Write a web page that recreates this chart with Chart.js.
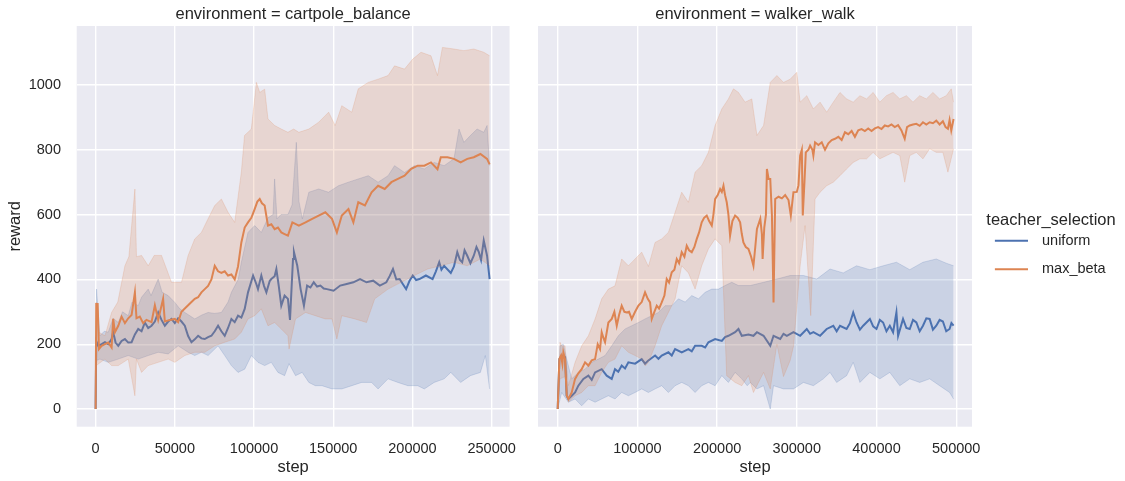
<!DOCTYPE html>
<html>
<head>
<meta charset="utf-8">
<script src="https://cdn.jsdelivr.net/npm/chart.js@4"></script>
<style>
  body { margin: 0; background: #fff; width: 1125px; height: 481px; overflow: hidden; position: relative; }
  .panel { position: absolute; top: 0; height: 481px; }
</style>
</head>
<body>
<div class="panel" style="left:0;width:530px"><canvas id="cartpole"></canvas></div>
<div class="panel" style="left:530px;width:595px"><canvas id="walker"></canvas></div>
<script>
// [step in thousands, reward]
const cartUniform = [[0,0],[0.4,210],[1.7,195],[3.8,200],[5.9,206],[8,200],[10.1,216],[11.1,237],[12.6,205],[14.3,195],[16.4,210],[18.5,216],[20.6,205],[22.7,206],[24.8,230],[26.9,247],[29,240],[31.1,267],[33.2,250],[35.3,257],[37.4,270],[39.5,298],[41.6,275],[43.7,257],[45.8,270],[47.9,278],[50,265],[52.1,280],[54.2,270],[56.3,257],[58.4,225],[60.5,206],[62.6,215],[64.7,226],[66.8,218],[68.9,216],[71,222],[73.1,226],[75.2,240],[77.3,257],[79.4,240],[81.5,226],[83.6,250],[85.7,278],[87.8,268],[89.9,288],[92,282],[94.1,309],[96.2,360],[99.4,412],[101.5,385],[102.5,370],[104.6,412],[106.3,380],[107.8,360],[109.9,395],[110.9,401],[113,410],[114.1,432],[115.6,380],[117.2,319],[119.3,350],[121.4,340],[122.7,275],[124.6,463],[125.2,484],[127.3,442],[129.4,370],[131.5,319],[133.5,381],[135.6,375],[137.7,391],[139.8,378],[141.9,381],[144,372],[146,370],[150.2,365],[154.4,381],[158.5,386],[162.7,391],[166.9,401],[171,391],[175.2,396],[179.4,381],[183.5,391],[185.6,410],[187.7,432],[189.8,400],[191.9,401],[194,385],[196,370],[198.1,395],[200.2,412],[202.3,398],[204.4,401],[208.5,412],[212.7,401],[214.8,425],[216.9,453],[218.3,430],[220,442],[224.2,420],[226.2,440],[228.3,484],[230,460],[231.4,453],[232.9,490],[234.6,473],[236.6,450],[238.7,473],[240.4,500],[241.9,484],[243.3,460],[245,520],[247.1,473],[248.7,401]];
const cartUniformHi = [[0,0],[0.6,370],[2.7,226],[5.5,240],[8,237],[11,280],[14.3,267],[17,300],[20.6,288],[23,330],[26.9,319],[29,345],[33.2,370],[35,350],[39.5,401],[42,360],[45.8,350],[50,329],[53,310],[56.3,298],[62.6,278],[67,290],[71,298],[75,295],[79.4,298],[83.6,330],[85.7,360],[90,400],[92,453],[96.2,545],[100.4,566],[104.6,545],[108.8,590],[112,600],[113,710],[114.5,587],[117,600],[121.4,600],[124,630],[126.7,823],[128.4,640],[130.5,587],[134.6,669],[140.8,679],[147,669],[153.3,689],[159.6,700],[165.8,710],[172.1,720],[178.3,700],[184.6,720],[188.7,751],[195,730],[201.2,751],[207.5,741],[213.7,761],[220,751],[226.2,772],[229.4,864],[232.5,823],[236.6,844],[240.8,864],[245,854],[247.1,875],[248.7,751]];
const cartUniformLo = [[0,0],[0.6,150],[2.7,154],[8,144],[14.3,154],[20.6,165],[26.9,154],[33.2,165],[39.5,175],[45.8,170],[52.1,195],[58.4,175],[62.6,165],[66.8,175],[71,165],[77.3,195],[81.5,165],[85.7,134],[89.9,113],[94.1,123],[98.3,165],[102.5,144],[106.7,134],[110.9,144],[115.1,113],[119.3,103],[122.1,140],[126.2,103],[130.4,113],[134.6,82],[138.7,72],[142.9,72],[149.2,62],[155.4,62],[161.7,72],[167.9,82],[174.2,82],[178.3,62],[184.6,93],[190.8,82],[197.1,72],[203.3,72],[207.5,62],[213.7,82],[220,93],[224.2,113],[230.4,82],[236.6,103],[242.9,113],[246,165],[248.7,62]];
const cartMaxBeta = [[0,0],[0.4,324],[1.3,324],[2.1,185],[3.8,195],[5.9,200],[8,205],[10.1,190],[11.1,278],[12.2,237],[14.3,257],[16.4,285],[18.5,265],[20.6,280],[22.7,290],[24.8,360],[25.8,280],[27.9,285],[30,265],[32.1,275],[35.3,268],[37.4,320],[39.5,275],[42.6,340],[43.7,270],[46.9,275],[50,278],[52.1,268],[54.2,300],[56.3,310],[58.4,320],[60.5,330],[62.6,340],[64.7,345],[66.8,360],[68.9,370],[71,380],[73.1,400],[75.2,442],[77.3,425],[79.4,420],[81.5,425],[83.6,412],[85.7,415],[87.8,400],[89.9,440],[92,514],[94.1,560],[96.2,576],[98.3,590],[100.4,617],[102.1,640],[103.6,648],[105,635],[106.7,628],[108.8,566],[110.9,570],[113,555],[115.1,560],[117.2,545],[119.3,540],[121.4,535],[124.2,576],[128.3,566],[132.5,576],[136.7,587],[140.8,597],[145,607],[149.2,587],[152.3,545],[155.4,597],[159.6,617],[162.7,576],[165.8,638],[170,628],[174.2,669],[178.3,689],[182.5,679],[186.7,700],[190.8,710],[195,720],[199.2,741],[203.3,751],[207.5,751],[211.7,761],[215.8,740],[217.9,777],[222.1,777],[226.2,772],[230.4,761],[234.6,772],[238.7,777],[242.9,787],[247.1,772],[248.7,755]];
const cartMaxBetaHi = [[0,0],[0.4,330],[2.1,237],[5.9,226],[10.1,298],[14,330],[18.5,442],[21,470],[24.8,679],[25.8,470],[29,474],[33.2,442],[37,474],[41.6,474],[47.9,391],[54.2,391],[58.4,474],[62.6,525],[66.8,545],[71,587],[75.2,628],[79.4,648],[83.6,607],[87.8,576],[92,731],[94,844],[98.3,864],[101.5,1008],[103.6,977],[106.7,987],[108.8,895],[113,875],[117.2,864],[121.4,854],[125,864],[128.3,854],[134.6,864],[140.8,885],[147.1,916],[151.2,875],[155.4,936],[161.7,916],[165.8,988],[172.1,1008],[178.3,1018],[184.6,1029],[188.7,1059],[195,1049],[200.2,1080],[205.4,1101],[211.7,1090],[215.8,1029],[218.9,1116],[226.2,1111],[232.5,1106],[238.7,1111],[245,1101],[248.7,1090]];
const cartMaxBetaLo = [[0,0],[0.4,134],[5.9,154],[10.1,134],[14.3,134],[20.6,154],[24.8,41],[25.8,154],[29,113],[33.2,134],[39.5,144],[45.8,154],[50,144],[56.3,165],[62.6,175],[68.9,175],[75.2,195],[81.5,206],[87.8,216],[92,237],[96.2,278],[100.4,288],[104.6,309],[108.8,257],[113,267],[117.2,247],[121.4,226],[122.1,185],[126.2,278],[132.5,298],[138.7,288],[145,278],[149.2,278],[152.3,216],[155.4,288],[163.7,278],[171,267],[176.2,340],[184.6,370],[192.9,391],[201.2,412],[209.6,432],[217.9,442],[226.2,453],[234.6,442],[242.9,463],[248.7,442]];

const walkUniform = [[0,0],[2.1,154],[5,165],[9.2,160],[11.3,41],[13.4,31],[17.6,41],[21.8,51],[25.9,72],[32.2,93],[38.5,103],[42.7,90],[46.9,113],[55.2,123],[61.5,103],[67.8,93],[71.9,123],[76,115],[80.3,134],[84.5,125],[88.7,144],[97.1,140],[105.4,154],[109.6,140],[113.8,150],[122.2,165],[126.4,155],[130.5,165],[138.9,175],[143.1,165],[147.3,185],[155.6,175],[164,185],[168.2,178],[172.4,195],[180.7,195],[185,190],[189.1,206],[197.5,216],[205.9,210],[210,222],[214.2,226],[222.6,237],[226.8,247],[231,226],[239.3,230],[245.6,226],[250,237],[258.3,226],[266.7,195],[270.8,226],[279.2,216],[283.3,232],[287.5,226],[295.8,237],[304.2,226],[312.5,247],[316.7,232],[320.8,237],[329.2,226],[337.5,247],[345.8,257],[350,240],[354.2,257],[362.5,247],[366.7,265],[370.8,298],[375,267],[379.2,245],[383.3,257],[391.7,278],[395.8,255],[400,247],[404.2,275],[408.3,267],[412.5,240],[416.7,257],[420.8,237],[425,298],[427.1,226],[433.3,278],[437.5,250],[441.7,247],[445.8,275],[450,267],[454.2,240],[458.3,257],[462.5,280],[466.7,278],[470.8,245],[475,257],[479.2,275],[483.3,270],[487.5,240],[491.7,247],[494,265],[496.7,257]];
const walkUniformHi = [[0,0],[2.9,195],[7,200],[11.3,154],[17.6,93],[25.9,113],[34.3,123],[42.7,144],[51,154],[59.4,165],[67.8,195],[76.1,226],[84.5,247],[92.9,257],[101.3,267],[109.6,278],[118,288],[126.4,298],[134.8,319],[143.1,319],[151.5,340],[159.9,330],[168.2,350],[176.6,340],[185,360],[193.3,370],[201.7,370],[210,381],[218.4,391],[226.8,381],[235.1,381],[241.7,381],[258.3,391],[275,401],[291.7,412],[308.3,412],[325,401],[341.7,432],[358.3,420],[375,442],[391.7,430],[408.3,442],[425,453],[441.7,430],[458.3,453],[475,463],[487.5,450],[496.7,442]];
const walkUniformLo = [[0,0],[5,51],[13.4,21],[21.8,31],[30.1,10],[38.5,31],[46.9,21],[55.2,31],[63.6,41],[71.9,31],[80.3,51],[88.7,41],[97.1,51],[105.4,62],[113.8,51],[122.2,62],[130.5,72],[138.9,51],[147.3,72],[155.6,82],[164,72],[172.4,51],[180.7,72],[189.1,82],[197.5,72],[205.9,103],[214.2,82],[222.6,113],[231,93],[237.8,72],[241.7,82],[250,62],[258.3,72],[266.7,0],[270.8,72],[283.3,62],[295.8,62],[308.3,82],[320.8,72],[333.3,93],[341.7,113],[350,82],[362.5,103],[370.8,144],[379.2,82],[391.7,113],[404.2,93],[416.7,113],[429.2,72],[441.7,93],[454.2,82],[466.7,93],[479.2,72],[491.7,51],[496.7,31]];
const walkMaxBeta = [[0,0],[2.1,154],[4.2,165],[5.9,140],[7.1,175],[9.2,154],[11.3,41],[13.4,31],[17.6,51],[21.8,93],[25.9,110],[30.1,123],[34.3,144],[38.5,134],[42.7,150],[46.9,154],[50.2,200],[53.1,185],[55.2,237],[57.3,220],[59.4,206],[63.6,267],[67.8,278],[71.1,300],[74.1,257],[77,290],[80.3,319],[83.7,300],[86.6,298],[89.5,300],[92.9,278],[97.1,300],[101.3,319],[105.4,330],[109.6,360],[113,340],[115.9,329],[118,278],[121.3,300],[124.3,319],[127.2,310],[130.5,329],[133.9,350],[136.8,401],[139.7,390],[143.1,422],[146.4,430],[149.4,463],[152.3,450],[155.6,484],[159,470],[161.9,504],[164.8,490],[168.2,484],[171.5,500],[174.5,525],[177.4,545],[180.7,576],[183.7,590],[187,597],[190,580],[193.3,566],[195.4,600],[197.5,648],[200.8,660],[203.8,679],[205.9,670],[208,689],[210,660],[212.1,638],[214.2,600],[216.3,535],[219.2,580],[222.6,597],[225.9,590],[228.9,576],[231,540],[233,514],[236,500],[239.3,494],[242.7,470],[245.6,442],[247.9,500],[250,556],[254.2,587],[256.2,540],[257.1,463],[259.2,560],[261.3,600],[262.5,741],[264.6,710],[266.7,710],[268.8,597],[270.8,329],[272.9,648],[277.1,655],[281.3,650],[285.4,660],[289.6,645],[292.5,597],[295.8,669],[300,670],[302.1,690],[304.2,782],[306.3,800],[307.5,597],[309.6,700],[311.3,792],[314.6,800],[316.7,813],[319.6,800],[320.8,782],[322.9,823],[327.1,815],[331.3,823],[335.4,800],[339.6,820],[343.8,830],[347.9,834],[352.1,840],[356.3,830],[360.4,854],[364.6,848],[368.8,858],[372.9,840],[377.1,860],[381.3,864],[385.4,858],[389.6,866],[393.8,858],[397.9,866],[402.1,870],[406.3,864],[410.4,875],[414.6,872],[418.8,878],[422.9,870],[427.1,876],[431.3,860],[435.4,834],[438.3,870],[441.7,875],[445.8,878],[450,880],[454.2,874],[458.3,885],[462.5,878],[466.7,885],[470.8,882],[475,890],[479.2,878],[483.3,888],[486.7,870],[489.6,865],[491.7,892],[493.8,860],[496.7,895]];
const walkMaxBetaHi = [[0,0],[2.9,206],[5,195],[9.2,195],[13.4,72],[21.8,144],[30.1,195],[38.5,226],[46.9,278],[55.2,340],[63.6,370],[71.9,380],[80.3,463],[88.7,442],[97.1,463],[105.4,484],[113.8,440],[122.2,514],[130.5,525],[138.9,545],[147.3,607],[155.6,669],[164,638],[172.4,731],[180.7,751],[189.1,792],[197.5,875],[205.9,926],[214.2,957],[220.5,988],[226.8,977],[235.1,947],[243.5,957],[250,844],[258.3,875],[266.7,1008],[275,1029],[283.3,1008],[291.7,1018],[300,1039],[304.2,947],[312.5,967],[320.8,926],[329.2,947],[337.5,916],[345.8,947],[354.2,977],[362.5,957],[370.8,947],[379.2,967],[387.5,957],[395.8,977],[404.2,947],[412.5,967],[420.8,977],[429.2,957],[437.5,967],[445.8,947],[454.2,967],[462.5,957],[470.8,977],[479.2,957],[487.5,967],[493.8,988],[496.7,947]];
const walkMaxBetaLo = [[0,0],[2.9,93],[9.2,100],[13.4,21],[21.8,41],[30.1,51],[38.5,72],[46.9,72],[55.2,113],[63.6,144],[71.9,154],[80.3,195],[88.7,175],[97.1,165],[105.4,154],[110,133],[113.8,144],[122.2,195],[130.5,257],[138.9,298],[147.3,340],[155.6,442],[164,420],[172.4,370],[180.7,442],[189.1,494],[197.5,525],[205.9,504],[212,103],[222.6,82],[231,72],[239.3,103],[245.6,51],[258.3,113],[266.7,62],[275,200],[283.3,100],[291.7,150],[296,195],[304.2,442],[310.4,566],[317.5,288],[322.9,648],[329.2,669],[337.5,689],[345.8,700],[354.2,720],[362.5,741],[370.8,761],[379.2,772],[387.5,772],[395.8,792],[404.2,772],[412.5,782],[420.8,792],[429.2,782],[435.4,700],[441.7,782],[450,792],[458.3,772],[466.7,803],[475,792],[483.3,792],[489.6,731],[496.7,803]];

const seriesNames = ['uniform', 'max_beta'];
const cartStepTicks = [0, 50000, 100000, 150000, 200000, 250000];
const walkStepTicks = [0, 100000, 200000, 300000, 400000, 500000];
const rewardTicks = [0, 200, 400, 600, 800, 1000];

const BLUE = '#4c72b0', ORANGE = '#dd8452';
const BLUE_A = 'rgba(76,114,176,0.2)', ORANGE_A = 'rgba(221,132,82,0.2)';
const TEXT = '#262626';
Chart.defaults.font.family = '"Liberation Sans", Arial, sans-serif';
Chart.defaults.color = TEXT;

const toXY = pts => pts.map(([k, v]) => ({ x: k * 1000, y: v }));
const fixedTicks = values => s => { s.ticks = values.map(value => ({ value })); };

function bandAndLine(mean, hi, lo, color, shade, order) {
  return [
    { data: toXY(hi), borderColor: shade, backgroundColor: shade, borderWidth: 1, fill: '+1', pointRadius: 0, order: order + 1 },
    { data: toXY(lo), borderColor: shade, backgroundColor: shade, borderWidth: 1, fill: false, pointRadius: 0, order: order + 1 },
    { data: toXY(mean), borderColor: color, backgroundColor: color, borderWidth: 2, fill: false, pointRadius: 0, order: order }
  ];
}

const plotBg = {
  id: 'plotBg',
  beforeDraw(chart) {
    const { ctx, chartArea: a } = chart;
    ctx.save();
    ctx.fillStyle = '#eaeaf2';
    ctx.fillRect(a.left, a.top, a.right - a.left, a.bottom - a.top);
    ctx.restore();
  }
};

// legend swatch: short line sitting at the left of the legend box slot
function swatch(color) {
  const c = document.createElement('canvas');
  c.width = 35; c.height = 4;
  const g = c.getContext('2d');
  g.strokeStyle = color; g.lineWidth = 2;
  g.beginPath(); g.moveTo(2, 2); g.lineTo(35, 2); g.stroke();
  return c;
}

function makeChart(id, title, datasets, xmin, xmax, xTicks, isLeft) {
  return new Chart(document.getElementById(id), {
    type: 'line',
    data: { datasets },
    options: {
      responsive: true,
      maintainAspectRatio: false,
      animation: false,
      events: [],
      layout: { padding: { left: 0, top: 0, bottom: 0, right: isLeft ? 18.3 : 0 } },
      elements: { line: { tension: 0 } },
      scales: {
        x: {
          type: 'linear', min: xmin, max: xmax,
          grid: { color: '#ffffff', lineWidth: 1.4, drawTicks: false },
          border: { display: false },
          afterBuildTicks: fixedTicks(xTicks),
          ticks: { padding: 13.3, font: { size: 14.5 }, callback: v => String(v), maxRotation: 0, autoSkip: false },
          title: { display: true, text: 'step', font: { size: 16.5 }, padding: { top: 0, bottom: 4.1 } },
          afterFit: s => { s.height = 54.3; }
        },
        y: {
          type: 'linear', min: -54.6, max: 1182,
          grid: { color: '#ffffff', lineWidth: 1.4, drawTicks: false },
          border: { display: false },
          afterBuildTicks: fixedTicks(rewardTicks),
          ticks: { display: isLeft, padding: 15.7, font: { size: 14.5 }, callback: v => String(v), autoSkip: false },
          title: { display: isLeft, text: 'reward', font: { size: 16.5 }, padding: { top: 5.1, bottom: 0 } },
          afterFit: s => { s.width = isLeft ? 76.7 : 8; }
        }
      },
      plugins: {
        tooltip: { enabled: false },
        title: { display: true, text: title, fullSize: false, color: TEXT, font: { size: 16.5, weight: 'normal' }, padding: { top: 4.2, bottom: 2 } },
        legend: isLeft ? { display: false } : {
          display: true, position: 'right', align: 'start',
          title: { display: true, text: 'teacher_selection', position: 'end', color: TEXT, font: { size: 16.5, lineHeight: 1 }, padding: { top: 212.45, bottom: -9.5 } },
          labels: {
            usePointStyle: true, pointStyleWidth: 48.75, padding: 14, color: TEXT, font: { size: 14.5 },
            generateLabels: () => [
              { text: seriesNames[0], pointStyle: swatch(BLUE), fillStyle: BLUE, strokeStyle: BLUE, lineWidth: 0, hidden: false, datasetIndex: 2 },
              { text: seriesNames[1], pointStyle: swatch(ORANGE), fillStyle: ORANGE, strokeStyle: ORANGE, lineWidth: 0, hidden: false, datasetIndex: 5 }
            ]
          }
        }
      }
    },
    plugins: [plotBg]
  });
}

makeChart('cartpole', 'environment = cartpole_balance',
  [...bandAndLine(cartUniform, cartUniformHi, cartUniformLo, BLUE, BLUE_A, 3),
   ...bandAndLine(cartMaxBeta, cartMaxBetaHi, cartMaxBetaLo, ORANGE, ORANGE_A, 1)],
  -11935, 261307, cartStepTicks, true);

const walker = makeChart('walker', 'environment = walker_walk',
  [...bandAndLine(walkUniform, walkUniformHi, walkUniformLo, BLUE, BLUE_A, 3),
   ...bandAndLine(walkMaxBeta, walkMaxBetaHi, walkMaxBetaLo, ORANGE, ORANGE_A, 1)],
  -24718, 519824, walkStepTicks, false);

// push the legend out so this plot is as wide as the cartpole one
walker.options.layout.padding.right = Math.max(0, 530 + walker.chartArea.right - 972);
walker.update();
</script>
</body>
</html>
